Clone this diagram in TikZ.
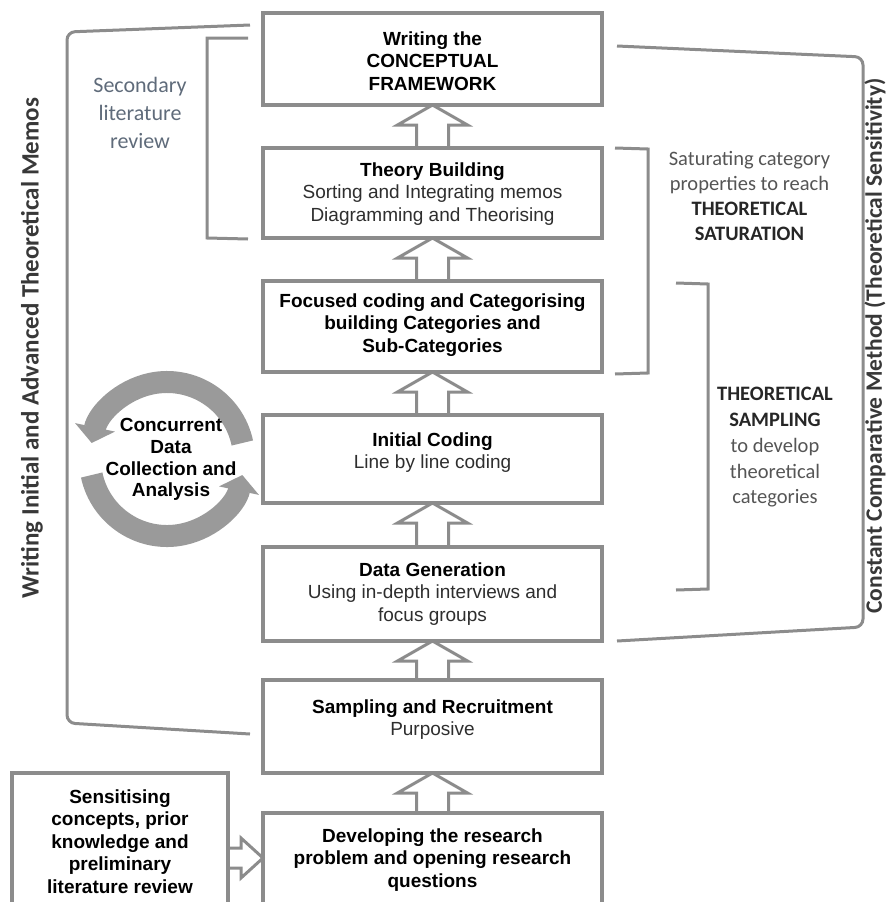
\documentclass[tikz,border=0pt]{standalone}
\usepackage{fontspec}
\setmainfont{Liberation Sans}
\newfontfamily\calfont{Carlito}
\usetikzlibrary{positioning,calc,arrows.meta}

\definecolor{linegray}{HTML}{8C8C8C}
\definecolor{cycgray}{HTML}{9A9A9A}
\definecolor{notegray}{HTML}{555555}
\definecolor{noteblue}{HTML}{5F6B7A}
\definecolor{subgray}{HTML}{2E2E2E}

\newcommand{\hollowup}[2]{%
  \draw[hollow] ($(#1.north)+(-16,0)$) |- ($(#2.south)+(-35,20)$) -- (#2.south)
    -- ($(#2.south)+(35,20)$) -| ($(#1.north)+(16,0)$);}

\begin{document}
\begin{tikzpicture}[x=1pt, y=-1pt,
    stagebox/.style={draw=linegray, line width=3.5pt, fill=white, minimum width=339pt, inner sep=0pt, outer sep=0pt},
    stagetext/.style={align=center, inner sep=0pt, font=\fontsize{19}{22.5}\selectfont},
    bracket/.style={draw=linegray, line width=3pt},
    hollow/.style={draw=linegray, line width=3pt, line join=miter},
    note/.style={align=center, inner sep=0pt, anchor=north, text=notegray, font=\calfont\fontsize{20.5}{25}\selectfont},
    sidetitle/.style={inner sep=0pt, rotate=90, text=black!78, font=\calfont\bfseries\fontsize{25}{25}\selectfont},
    cyc/.style={draw=cycgray, line width=22pt}]
    \useasboundingbox (0,0) rectangle (888,902);

    \node[stagebox, minimum height=92pt] (W) at (432.5,59) {};
    \node[stagebox, minimum height=90pt] (T) at (432.5,193) {};
    \node[stagebox, minimum height=91pt] (F) at (432.5,326.5) {};
    \node[stagebox, minimum height=88pt] (I) at (432.5,459) {};
    \node[stagebox, minimum height=94pt] (D) at (432.5,594) {};
    \node[stagebox, minimum height=93pt] (S) at (432.5,726.5) {};
    \node[stagebox, minimum height=93pt] (P) at (432.5,859.5) {};
    \node[stagebox, minimum width=216pt, minimum height=133pt] (K) at (120,839.5) {};

    \node[stagetext, below=18.4pt of W.north] (Wt) {\bfseries Writing the\\\bfseries CONCEPTUAL\\\bfseries FRAMEWORK};
    \node[stagetext, below=14.4pt of T.north] (Tt) {\textbf{Theory Building}\\\color{subgray}Sorting and Integrating memos\\\color{subgray}Diagramming and Theorising};
    \node[stagetext, below=12.4pt of F.north] (Ft) {\bfseries Focused coding and Categorising\\\bfseries building Categories and\\\bfseries Sub-Categories};
    \node[stagetext, below=17.4pt of I.north] (It) {\textbf{Initial Coding}\\\color{subgray}Line by line coding};
    \node[stagetext, below=15.4pt of D.north] (Dt) {\textbf{Data Generation}\\\color{subgray}Using in-depth interviews and\\\color{subgray}focus groups};
    \node[stagetext, below=19.4pt of S.north] (St) {\textbf{Sampling and Recruitment}\\\color{subgray}Purposive};
    \node[stagetext, below=15.4pt of P.north] (Pt) {\bfseries Developing the research\\\bfseries problem and opening research\\\bfseries questions};
    \node[stagetext, below=16.4pt of K.north] (Kt) {\bfseries Sensitising\\\bfseries concepts, prior\\\bfseries knowledge and\\\bfseries preliminary\\\bfseries literature review};

    \hollowup{T}{W}
    \hollowup{F}{T}
    \hollowup{I}{F}
    \hollowup{D}{I}
    \hollowup{S}{D}
    \hollowup{P}{S}
    \coordinate (hz) at (0,858);
    \draw[hollow] ($(K.east |- hz)+(0,-10)$) -- ($(P.west |- hz)+(-22,-10)$) -- ++(0,-10) -- (P.west |- hz)
        -- ($(P.west |- hz)+(-22,20)$) -- ++(0,-10) -- ($(K.east |- hz)+(0,10)$);

    \draw[bracket, rounded corners=8pt] (250,25) -- (67,32) -- (67,723) -- (250,734);
    \draw[bracket] (248,38) -- (207,38) -- (207,238) -- (248,239);
    \draw[bracket] (615,148) -- (648,149) -- (648,373) -- (615,374);
    \draw[bracket] (676,283) -- (708,284) -- (708,589) -- (676,590);
    \draw[bracket, rounded corners=8pt] (617,46) -- (863,57) -- (863,627) -- (617,641);

    \node[sidetitle] (memo) at (32,348) {Writing Initial and Advanced Theoretical Memos};
    \node[sidetitle, font=\calfont\bfseries\fontsize{23.5}{23.5}\selectfont] (ccm) at (875,346) {Constant Comparative Method (Theoretical Sensitivity)};

    \node[note, text=noteblue, font=\calfont\fontsize{22}{28}\selectfont] (sec) at (140,77) {Secondary\\literature\\review};
    \node[note] (sat) at (749.5,151) {Saturating category\\properties to reach\\\color{black!85}\bfseries THEORETICAL\\\color{black!85}\bfseries SATURATION};
    \node[note, font=\calfont\fontsize{20.5}{25.8}\selectfont] (samp) at (775,387) {\color{black!85}\bfseries THEORETICAL\\\color{black!85}\bfseries SAMPLING\\to develop\\theoretical\\categories};

    \coordinate (C) at (167,459);
    \draw[cyc, -{Triangle[length=16pt, width=40pt]}] ($(C)+(-12:77)$) arc[start angle=-12, end angle=-168, radius=77];
    \draw[cyc, -{Triangle[length=16pt, width=40pt]}] ($(C)+(168:77)$) arc[start angle=168, end angle=12, radius=77];
    \node[stagetext, anchor=north, font=\bfseries\fontsize{19}{21.8}\selectfont] (cdc) at (171,418) {Concurrent\\Data\\Collection and\\Analysis};
\end{tikzpicture}
\end{document}
